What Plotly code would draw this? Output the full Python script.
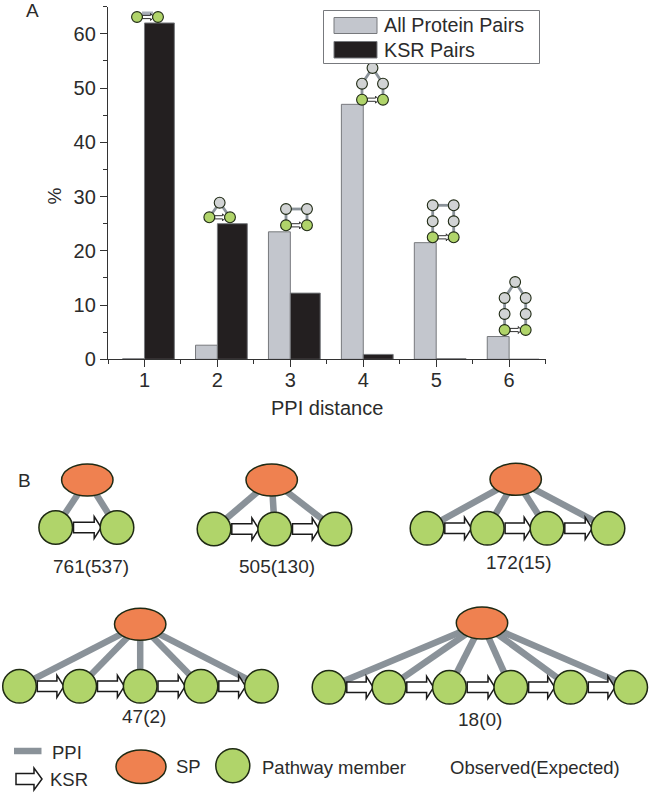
import plotly.graph_objects as go

# ---------- data ----------
ppi_distance = [1, 2, 3, 4, 5, 6]
all_protein_pairs = [0.1, 2.6, 23.5, 47.0, 21.5, 4.2]
ksr_pairs = [62.0, 25.0, 12.2, 0.9, 0.1, 0.0]
legend_names = ["All Protein Pairs", "KSR Pairs"]
motif_counts = ["761(537)", "505(130)", "172(15)", "47(2)", "18(0)"]

W, H = 649, 793
GRAY_FILL = "#c3c6cd"
BLACK_FILL = "#231f20"
BAR_EDGE = "#77797d"
TXT = "#2b2b2b"
EDGE = "#8a9299"
NODE_LINE = "#1f2a14"
GREEN = "#b0d46a"
ORANGE = "#ef8150"
NODE_GRAY = "#d1d3d4"
FONT = "Liberation Sans, Arial, sans-serif"

fig = go.Figure()
fig.add_bar(x=ppi_distance, y=all_protein_pairs, name=legend_names[0], width=0.30, offset=-0.30,
            marker=dict(color=GRAY_FILL, line=dict(color=BAR_EDGE, width=1)), showlegend=False)
fig.add_bar(x=ppi_distance, y=ksr_pairs, name=legend_names[1], width=0.41, offset=0,
            marker=dict(color=BLACK_FILL, line=dict(color=BAR_EDGE, width=1)), showlegend=False)
fig.add_scatter(x=[0, W], y=[0, H], xaxis="x2", yaxis="y2", mode="markers",
                marker=dict(opacity=0), hoverinfo="skip", showlegend=False)

shapes, annots = [], []
REF = dict(xref="x2", yref="y2")


def line(x0, y0, x1, y1, width, color=EDGE):
    shapes.append(dict(type="line", x0=x0, y0=y0, x1=x1, y1=y1, line=dict(color=color, width=width), **REF))


def ell(cx, cy, rx, ry, fill, lw=1.5):
    shapes.append(dict(type="circle", x0=cx - rx, x1=cx + rx, y0=cy - ry, y1=cy + ry,
                       fillcolor=fill, line=dict(color=NODE_LINE, width=lw), **REF))


def arrow(x0, x1, y, shaft, head, hl, lw=1.5):
    p = (f"M{x0},{y-shaft/2} L{x1-hl},{y-shaft/2} L{x1-hl},{y-head/2} L{x1},{y} "
         f"L{x1-hl},{y+head/2} L{x1-hl},{y+shaft/2} L{x0},{y+shaft/2} Z")
    shapes.append(dict(type="path", path=p, fillcolor="white", line=dict(color="#1a1a1a", width=lw), **REF))


def text(x, y, s, size=17, anchor="center", angle=0):
    annots.append(dict(x=x, y=y, text=s, showarrow=False, xanchor=anchor, yanchor="middle", textangle=angle,
                       font=dict(family=FONT, size=size, color=TXT), **REF))


def small_motif(xl, xr, rows_y, top=None):
    r = 5.4
    ys = rows_y
    for a, b in zip(ys, ys[1:]):
        line(xl, a, xl, b, 2.8)
        line(xr, a, xr, b, 2.8)
    if top is None:
        if len(ys) > 1:
            line(xl, ys[-1], xr, ys[-1], 2.8)
    else:
        xm = (xl + xr) / 2
        line(xl, ys[-1], xm, top, 2.8)
        line(xr, ys[-1], xm, top, 2.8)
    arrow(xl + r, xr - r + 1, ys[0], 3.2, 7, 3, lw=0.9)
    for i, y in enumerate(ys):
        c = GREEN if i == 0 else NODE_GRAY
        ell(xl, y, r, r, c, 1.1)
        ell(xr, y, r, r, c, 1.1)
    if top is not None:
        ell((xl + xr) / 2, top, r, r, NODE_GRAY, 1.1)


line(142, 13.5, 153, 13.5, 4, "#a9aeb8")
small_motif(137, 158, [17])
small_motif(209.3, 230, [217.3], top=202.7)
small_motif(286, 307, [225.3, 209])
small_motif(362, 383, [99.7, 83.7], top=68)
small_motif(432.7, 453.7, [237.3, 221.3, 205.3])
small_motif(504.6, 525.7, [330, 314, 298], top=282)


def motif(sp, greens, gy, label, lab_xy, rx=25.7, ry=16, r=16.8):
    for g in greens:
        line(sp[0], sp[1], g, gy, 6.5)
    for a, b in zip(greens, greens[1:]):
        arrow(a + r + 1, b - r + 1, gy, 10.5, 22, 7)
    ell(sp[0], sp[1], rx, ry, ORANGE)
    for g in greens:
        ell(g, gy, r, r, GREEN)
    text(lab_xy[0], lab_xy[1], label, 19)


motif((87.3, 480), [55.7, 117], 527.5, motif_counts[0], (90.7, 566))
motif((271.7, 480), [214, 274.7, 335], 529, motif_counts[1], (276.7, 566))
motif((515.7, 479.3), [427, 487.3, 547, 608], 528.3, motif_counts[2], (519, 562.7))
motif((140.2, 624.3), [19.5, 79.7, 140.2, 201, 261.4], 686.3, motif_counts[3], (144.4, 716.7))
motif((482, 623), [329, 389, 449.4, 510.8, 570.5, 630.7], 687.3, motif_counts[4], (480, 719))

line(14, 751, 41.5, 751, 6.5)
text(50, 752.5, "PPI", 18.5, "left")
arrow(16, 42, 779, 11, 22, 8)
text(47.5, 779, "KSR", 18.5, "left")
ell(141, 766.7, 25, 16.7, ORANGE)
text(174, 766.5, "SP", 18.5, "left")
ell(232.8, 765.7, 17, 17, GREEN)
text(260, 767, "Pathway member", 18.5, "left")
text(448, 767, "Observed(Expected)", 18.5, "left")

text(24, 10, "A", 19, "left")
text(16, 480.5, "B", 19, "left")
text(54, 196.5, "%", 19, angle=-90)
text(326.6, 408, "PPI distance", 20)

shapes.append(dict(type="rect", x0=323.5, x1=539.5, y0=10.5, y1=63.5, fillcolor="white",
                   line=dict(color="#77797d", width=1), **REF))
shapes.append(dict(type="rect", x0=334, x1=377, y0=17.5, y1=33.5, fillcolor=GRAY_FILL,
                   line=dict(color=BAR_EDGE, width=1), **REF))
shapes.append(dict(type="rect", x0=334, x1=377, y0=41.5, y1=58, fillcolor=BLACK_FILL,
                   line=dict(color=BAR_EDGE, width=1), **REF))
text(382, 25, legend_names[0], 19.7, "left")
text(382, 50, legend_names[1], 19.7, "left")

axis_line = dict(showline=True, linecolor="#333333", linewidth=1.3, ticks="outside", tickcolor="#333333",
                 tickwidth=1.2, showgrid=False, zeroline=False, tickfont=dict(family=FONT, size=20, color=TXT))

fig.update_layout(
    width=W, height=H, margin=dict(l=0, r=0, t=0, b=0, autoexpand=False), paper_bgcolor="white",
    plot_bgcolor="rgba(0,0,0,0)",
    barmode="overlay", showlegend=False, shapes=shapes, annotations=annots,
    xaxis=dict(domain=[108 / W, 545.6 / W], range=[0.5, 6.5], tickmode="array", tickvals=ppi_distance, ticklen=7,
               ticklabelstandoff=-4,
               minor=dict(tickvals=[0.5, 1.5, 2.5, 3.5, 4.5, 5.5, 6.5], ticklen=4, ticks="outside",
                          tickcolor="#333333", tickwidth=1.2),
               anchor="y", **axis_line),
    yaxis=dict(domain=[(H - 359.3) / H, (H - 6.7) / H], range=[0, 65], tickvals=[0, 10, 20, 30, 40, 50, 60], ticklen=7,
               minor=dict(tickvals=[5, 15, 25, 35, 45, 55, 65], ticklen=4, ticks="outside",
                          tickcolor="#333333", tickwidth=1.2),
               anchor="x", **axis_line),
    xaxis2=dict(domain=[0, 1], range=[0, W], visible=False, anchor="y2", fixedrange=True),
    yaxis2=dict(domain=[0, 1], range=[H, 0], visible=False, anchor="x2", fixedrange=True),
)

fig.write_html("out.html", config={"displayModeBar": False},
               post_script="document.body.style.margin='0';document.body.style.overflow='hidden';")
